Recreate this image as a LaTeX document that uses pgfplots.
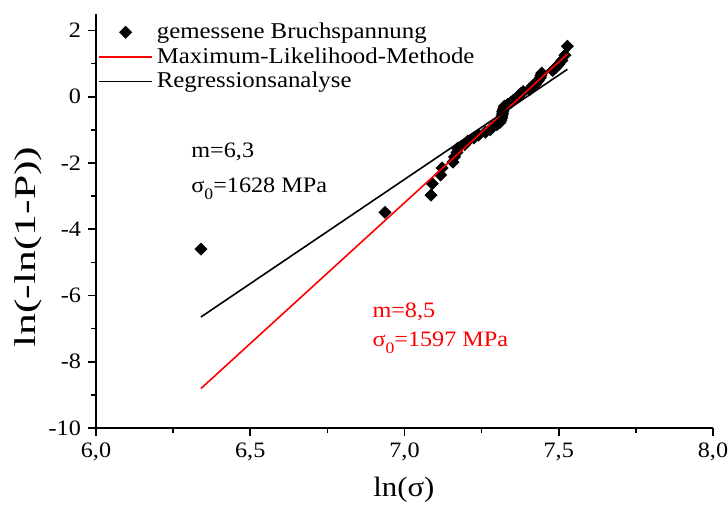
\documentclass[border=0pt]{standalone}
\usepackage{fontspec}
\setmainfont{Liberation Serif}[FakeStretch=1.1]
\usepackage{graphicx}
\usepackage{pgfplots}
\pgfplotsset{compat=1.18}
\newcommand{\sub}[1]{\raisebox{-3.4pt}{\fontsize{8}{9}\selectfont #1}}
\begin{document}
\begin{tikzpicture}
\begin{axis}[
  scale only axis, width=308.5pt, height=207pt,
  xmin=6, xmax=8, ymin=-10, ymax=2.5,
  axis x line*=bottom, axis y line*=left,
  axis line style={line width=0.8pt,-},
  xtick={6,6.5,7,7.5,8}, minor xtick={6.25,6.75,7.25,7.75},
  ytick={-10,-8,-6,-4,-2,0,2}, minor ytick={-9,-7,-5,-3,-1,1},
  tick align=outside, major tick length=4pt, minor tick length=2.5pt,
  tick style={black,line width=0.8pt},
  clip marker paths=true,
  /pgf/number format/assume math mode=true,
  ticklabel style={font=\fontsize{11}{13}\selectfont},
  xticklabel style={/pgf/number format/.cd,fixed,fixed zerofill,precision=1,use comma},
  yticklabel style={/pgf/number format/.cd,fixed,precision=0},
  xlabel={ln(σ)}, ylabel={\scalebox{1.32}[1]{ln(-ln(1-P))}},
  xlabel style={at={(rel axis cs:0.499,-0.150)},anchor=center,inner sep=0pt,font=\fontsize{14}{17}\selectfont},
  ylabel style={at={(rel axis cs:-0.110,0.437)},anchor=center,inner sep=0pt,font=\fontsize{15}{18}\selectfont},
  legend style={at={(rel axis cs:0.003,0.989)},anchor=north west,draw=none,fill=none,
    font=\fontsize{11.3}{13.5}\selectfont,row sep=-1pt,inner sep=0pt},
  legend cell align=left,
  legend image code/.code={\draw[mark repeat=2,mark phase=2,#1] plot coordinates {(0pt,0pt) (13.25pt,0pt) (26.5pt,0pt)};},
]
% Bruchspannung, P_i = (i-0.5)/50
\addplot[black,only marks,mark=square*,mark size=2.1pt,mark options={rotate=45,fill=black,draw=black}] coordinates {
(6.340,-4.600) (6.937,-3.491) (7.086,-2.970) (7.090,-2.623) (7.117,-2.361)
(7.122,-2.150) (7.157,-1.971) (7.162,-1.817) (7.170,-1.680) (7.172,-1.557)
(7.195,-1.445) (7.205,-1.342) (7.225,-1.246) (7.240,-1.156) (7.262,-1.071)
(7.278,-0.991) (7.285,-0.915) (7.300,-0.842) (7.310,-0.772) (7.313,-0.705)
(7.315,-0.639) (7.316,-0.576) (7.318,-0.514) (7.318,-0.454) (7.320,-0.396)
(7.322,-0.338) (7.324,-0.281) (7.335,-0.225) (7.345,-0.170) (7.352,-0.115)
(7.360,-0.060) (7.368,-0.006) (7.372,0.049) (7.378,0.103) (7.385,0.158)
(7.405,0.213) (7.410,0.270) (7.415,0.327) (7.425,0.385) (7.430,0.445)
(7.435,0.507) (7.440,0.572) (7.442,0.640) (7.445,0.713) (7.480,0.792)
(7.490,0.879) (7.500,0.978) (7.510,1.097) (7.520,1.255) (7.528,1.527)
};
\addlegendentry{gemessene Bruchspannung}
\addplot[red,line width=0.8pt] coordinates {(6.34,-8.81) (7.528,1.29)};
\addlegendentry{Maximum-Likelihood-Methode}
\addplot[black,line width=0.8pt] coordinates {(6.34,-6.65) (7.528,0.83)};
\addlegendentry{Regressionsanalyse}
\node[anchor=base west,inner sep=0pt,font=\fontsize{11}{13}\selectfont] at (axis cs:6.308,-1.84) {m=6,3};
\node[anchor=base west,inner sep=0pt,font=\fontsize{11}{13}\selectfont] at (axis cs:6.308,-2.90) {σ\sub{0}=1628 MPa};
\node[anchor=base west,inner sep=0pt,font=\fontsize{11}{13}\selectfont,red] at (axis cs:6.895,-6.65) {m=8,5};
\node[anchor=base west,inner sep=0pt,font=\fontsize{11}{13}\selectfont,red] at (axis cs:6.895,-7.55) {σ\sub{0}=1597 MPa};
\coordinate (bbA) at (rel axis cs:-0.1556,1.0338);
\coordinate (bbB) at (rel axis cs:1.0243,-0.1908);
\end{axis}
\pgfresetboundingbox
\path (bbA) (bbB);
\end{tikzpicture}
\end{document}
